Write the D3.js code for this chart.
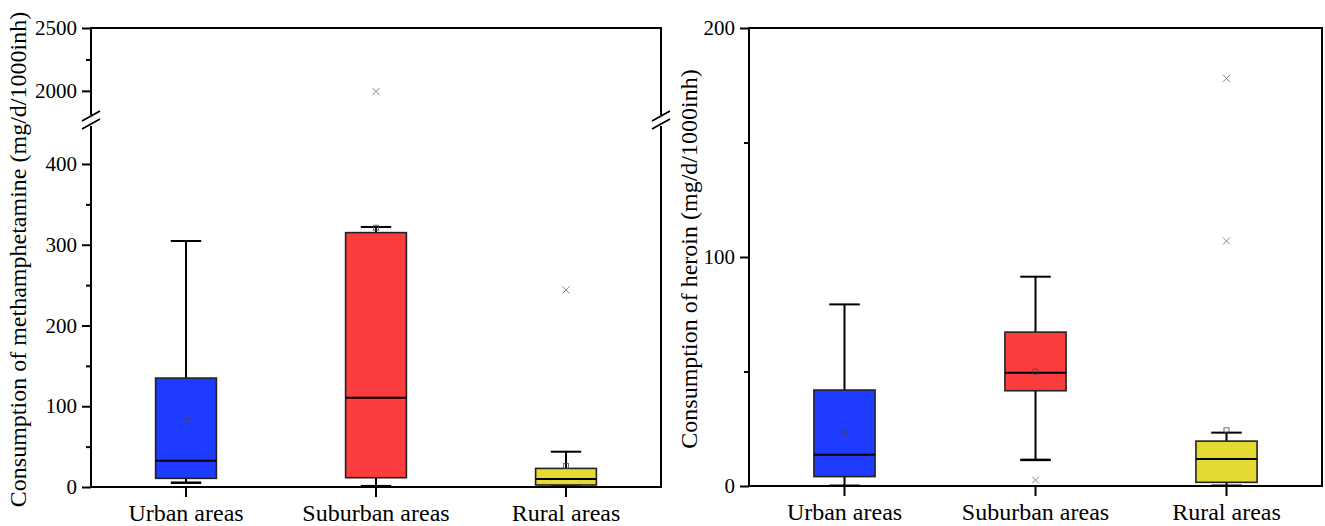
<!DOCTYPE html>
<html>
<head>
<meta charset="utf-8">
<script src="https://cdn.jsdelivr.net/npm/d3@7"></script>
<style>
  body { margin: 0; background: #fff; }
  svg { display: block; }
</style>
</head>
<body>
<div id="chart"></div>
<script>
// categories
var categories = ["Urban areas", "Suburban areas", "Rural areas"];
var boxColors = ["#1f3bff", "#fc3d3d", "#e4da33"];

// methamphetamine (left) box stats
var methWhiskerLow = [5.3, 1, 0.5];
var methQ1 = [10.7, 11.5, 2.5];
var methMedian = [32.6, 110.6, 10];
var methQ3 = [134.9, 315, 23];
var methWhiskerHigh = [304.6, 322, 43.7];
var methMean = [81.7, 321, 26];
var methOutliers = [[], [1995], [244]];

// heroin (right) box stats
var herWhiskerLow = [0.1, 11.4, 0.1];
var herQ1 = [4.1, 41.6, 1.6];
var herMedian = [13.7, 49.5, 11.8];
var herQ3 = [41.9, 67.2, 19.6];
var herWhiskerHigh = [79.3, 91.4, 23.3];
var herMean = [23.4, 49.9, 24.3];
var herOutliers = [[], [2.6], [178, 107]];

// tick values
var methLowMajor = [0, 100, 200, 300, 400];
var methLowMinor = [50, 150, 250, 350];
var methHighMajor = [2000, 2500];
var methHighMinor = [2250];
var herMajor = [0, 100, 200];
var herMinor = [50, 150];

var W = 1325, H = 526;
var font = "'Liberation Serif', 'Times New Roman', serif";

var svg = d3.select("#chart").append("svg")
  .attr("width", W).attr("height", H)
  .style("font-family", font);

function makeStats(lo, q1, med, q3, hi, mean, outl) {
  return categories.map(function (c, i) {
    return { cat: c, lo: lo[i], q1: q1[i], med: med[i], q3: q3[i], hi: hi[i], mean: mean[i], out: outl[i], color: boxColors[i] };
  });
}

var methData = makeStats(methWhiskerLow, methQ1, methMedian, methQ3, methWhiskerHigh, methMean, methOutliers);
var herData = makeStats(herWhiskerLow, herQ1, herMedian, herQ3, herWhiskerHigh, herMean, herOutliers);

// draws one y tick group (major + minor) on given scale
function yTicks(g, scale, x, major, minor) {
  var ax = g.append("g").attr("transform", "translate(" + x + ",0)")
    .call(d3.axisLeft(scale).tickValues(major).tickSize(9).tickPadding(5).tickFormat(d3.format("d")));
  ax.select(".domain").remove();
  ax.selectAll("line").attr("stroke", "#000").attr("stroke-width", 2);
  ax.selectAll("text").attr("font-size", 21).attr("fill", "#000").style("font-family", font);
  var mi = g.append("g").attr("transform", "translate(" + x + ",0)")
    .call(d3.axisLeft(scale).tickValues(minor).tickSize(5).tickFormat(""));
  mi.select(".domain").remove();
  mi.selectAll("line").attr("stroke", "#000").attr("stroke-width", 2);
}

function breakMark(g, x, y) {
  [-4, 4].forEach(function (o) {
    g.append("line")
      .attr("x1", x - 9).attr("y1", y + o + 5)
      .attr("x2", x + 9).attr("y2", y + o - 5)
      .attr("stroke", "#000").attr("stroke-width", 1.8);
  });
}

function drawBoxes(g, data, x, yOf) {
  var bw = x.bandwidth();
  var boxW = bw * 0.32;
  var capW = boxW / 2;
  var grp = g.selectAll(".box").data(data).enter().append("g").attr("class", "box")
    .attr("transform", function (d) { return "translate(" + (x(d.cat) + bw / 2) + ",0)"; });

  // whiskers
  grp.append("line").attr("x1", 0).attr("x2", 0)
    .attr("y1", function (d) { return yOf(d.hi); }).attr("y2", function (d) { return yOf(d.q3); })
    .attr("stroke", "#000").attr("stroke-width", 2);
  grp.append("line").attr("x1", 0).attr("x2", 0)
    .attr("y1", function (d) { return yOf(d.q1); }).attr("y2", function (d) { return yOf(d.lo); })
    .attr("stroke", "#000").attr("stroke-width", 2);
  grp.append("line").attr("x1", -capW / 2).attr("x2", capW / 2)
    .attr("y1", function (d) { return yOf(d.hi); }).attr("y2", function (d) { return yOf(d.hi); })
    .attr("stroke", "#000").attr("stroke-width", 2);
  grp.append("line").attr("x1", -capW / 2).attr("x2", capW / 2)
    .attr("y1", function (d) { return yOf(d.lo); }).attr("y2", function (d) { return yOf(d.lo); })
    .attr("stroke", "#000").attr("stroke-width", 2.5);

  // box
  grp.append("rect")
    .attr("x", -boxW / 2).attr("width", boxW)
    .attr("y", function (d) { return yOf(d.q3); })
    .attr("height", function (d) { return yOf(d.q1) - yOf(d.q3); })
    .attr("fill", function (d) { return d.color; })
    .attr("stroke", "#222").attr("stroke-width", 1.6);

  // median
  grp.append("line").attr("x1", -boxW / 2).attr("x2", boxW / 2)
    .attr("y1", function (d) { return yOf(d.med); }).attr("y2", function (d) { return yOf(d.med); })
    .attr("stroke", "#000").attr("stroke-width", 2);

  // mean
  grp.append("rect")
    .attr("x", -2.5).attr("width", 5).attr("height", 5)
    .attr("y", function (d) { return yOf(d.mean) - 2.5; })
    .attr("fill", "none").attr("stroke", "#444").attr("stroke-width", 1).attr("stroke-opacity", 0.8);

  // outliers (x marks)
  grp.each(function (d) {
    var s = d3.select(this);
    d.out.forEach(function (v) {
      var yy = yOf(v);
      s.append("path")
        .attr("d", "M-3.5," + (yy - 3.5) + "L3.5," + (yy + 3.5) + "M3.5," + (yy - 3.5) + "L-3.5," + (yy + 3.5))
        .attr("stroke", "#888").attr("stroke-width", 1).attr("fill", "none");
    });
  });
}

function xAxis(g, x, y) {
  var ax = g.append("g").attr("transform", "translate(0," + y + ")")
    .call(d3.axisBottom(x).tickSize(10).tickPadding(7));
  ax.select(".domain").remove();
  ax.selectAll("line").attr("stroke", "#000").attr("stroke-width", 2);
  ax.selectAll("text").attr("font-size", 24).attr("fill", "#000").style("font-family", font);
}

// ---------- left panel (methamphetamine, broken axis) ----------
var L = { x0: 91, x1: 661, top: 28, bot: 487, brk: 120 };
var left = svg.append("g");
var xL = d3.scaleBand().domain(categories).range([L.x0, L.x1]).padding(0);
var yLow = d3.scaleLinear().domain([0, 450]).range([L.bot, 123.6]);
var yHigh = d3.scaleLinear().domain([1800, 2500]).range([116, L.top]);
function yMeth(v) { return v > 450 ? yHigh(v) : yLow(v); }

yTicks(left, yLow, L.x0, methLowMajor, methLowMinor);
yTicks(left, yHigh, L.x0, methHighMajor, methHighMinor);
xAxis(left, xL, L.bot);

drawBoxes(left, methData, xL, yMeth);

// frame with breaks
[L.x0, L.x1].forEach(function (x) {
  left.append("line").attr("x1", x).attr("x2", x).attr("y1", L.top).attr("y2", L.brk - 5)
    .attr("stroke", "#000").attr("stroke-width", 2);
  left.append("line").attr("x1", x).attr("x2", x).attr("y1", L.brk + 6).attr("y2", L.bot)
    .attr("stroke", "#000").attr("stroke-width", 2);
  breakMark(left, x, L.brk);
});
left.append("line").attr("x1", L.x0 - 1).attr("x2", L.x1 + 1).attr("y1", L.top).attr("y2", L.top)
  .attr("stroke", "#000").attr("stroke-width", 2);
left.append("line").attr("x1", L.x0 - 1).attr("x2", L.x1 + 1).attr("y1", L.bot).attr("y2", L.bot)
  .attr("stroke", "#000").attr("stroke-width", 2);

left.append("text")
  .attr("transform", "translate(26," + ((L.top + L.bot) / 2 + 2) + ") rotate(-90)")
  .attr("text-anchor", "middle")
  .attr("font-size", 24)
  .text("Consumption of methamphetamine (mg/d/1000inh)");

// ---------- right panel (heroin) ----------
var R = { x0: 749, x1: 1322, top: 28, bot: 486 };
var right = svg.append("g");
var xR = d3.scaleBand().domain(categories).range([R.x0, R.x1]).padding(0);
var yR = d3.scaleLinear().domain([0, 200]).range([R.bot, R.top]);

yTicks(right, yR, R.x0, herMajor, herMinor);
xAxis(right, xR, R.bot);
drawBoxes(right, herData, xR, yR);

right.append("rect")
  .attr("x", R.x0).attr("y", R.top)
  .attr("width", R.x1 - R.x0).attr("height", R.bot - R.top)
  .attr("fill", "none").attr("stroke", "#000").attr("stroke-width", 2);

right.append("text")
  .attr("transform", "translate(697," + ((R.top + R.bot) / 2 + 2) + ") rotate(-90)")
  .attr("text-anchor", "middle")
  .attr("font-size", 24)
  .text("Consumption of heroin (mg/d/1000inh)");
</script>
</body>
</html>
